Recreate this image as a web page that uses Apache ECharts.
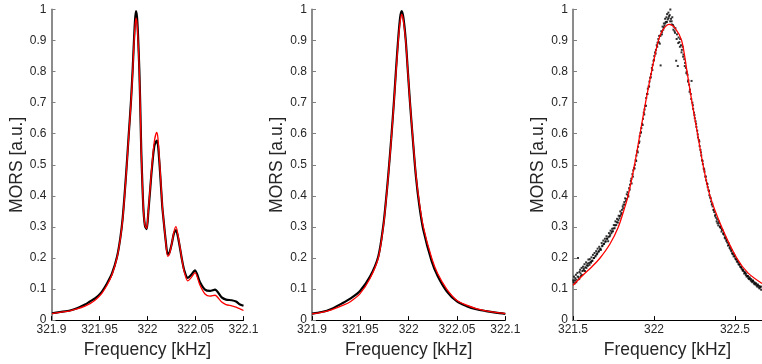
<!DOCTYPE html>
<html>
<head>
<meta charset="utf-8">
<script src="https://cdn.jsdelivr.net/npm/echarts@6/dist/echarts.min.js"></script>
<style>
html,body{margin:0;padding:0;background:#fff;}
#chart{width:762px;height:364px;}
</style>
</head>
<body>
<div id="chart"></div>
<script>
// ---------- Panel 1 (two-peak series) ----------
const freq1 = [321.9005,321.9089,321.9193,321.9266,321.9349,321.9401,321.9453,321.9495,321.9526,321.9578,321.9630,321.9682,321.9717,321.9742,321.9776,321.9804,321.9828,321.9846,321.9856,321.9870,321.9880,321.9891,321.9901,321.9915,321.9925,321.9935,321.9950,321.9960,321.9974,321.9992,322.0008,322.0029,322.0044,322.0071,322.0096,322.0109,322.0130,322.0154,322.0165,322.0190,322.0210,322.0229,322.0252,322.0276,322.0297,322.0321,322.0356,322.0383,322.0419,322.0453,322.0495,322.0547,322.0599,322.0651,322.0703,322.0773,322.0818,322.0877,322.0922,322.0964,322.1000];
const fit1  = [0.021,0.025,0.030,0.036,0.045,0.053,0.064,0.076,0.087,0.112,0.146,0.200,0.262,0.325,0.460,0.590,0.700,0.800,0.870,0.945,0.972,0.955,0.905,0.800,0.680,0.540,0.410,0.345,0.305,0.295,0.350,0.430,0.490,0.575,0.604,0.585,0.490,0.370,0.330,0.252,0.205,0.212,0.245,0.285,0.301,0.268,0.200,0.155,0.126,0.136,0.153,0.112,0.084,0.077,0.080,0.058,0.050,0.046,0.042,0.036,0.031];
const data1 = [0.022,0.026,0.031,0.038,0.050,0.060,0.070,0.081,0.092,0.118,0.150,0.203,0.265,0.330,0.465,0.595,0.705,0.810,0.880,0.965,0.995,0.975,0.920,0.805,0.685,0.545,0.410,0.345,0.303,0.293,0.345,0.425,0.482,0.560,0.578,0.565,0.480,0.365,0.330,0.255,0.212,0.218,0.245,0.280,0.290,0.262,0.200,0.160,0.136,0.145,0.160,0.122,0.098,0.094,0.098,0.073,0.066,0.064,0.060,0.050,0.046];

// ---------- Panel 2 (single peak, narrow) ----------
const freq2 = [321.9000,321.9100,321.9200,321.9324,321.9400,321.9497,321.9600,321.9686,321.9738,321.9765,321.9790,321.9820,321.9848,321.9870,321.9893,321.9912,321.9928,321.9945,321.9969,321.9992,322.0014,322.0045,322.0076,322.0110,322.0152,322.0238,322.0300,322.0394,322.0500,322.0600,322.0700,322.0800,322.0900,322.1000];
const fit2  = [0.020,0.025,0.033,0.048,0.060,0.085,0.134,0.200,0.300,0.380,0.466,0.580,0.700,0.800,0.900,0.960,0.985,0.965,0.900,0.800,0.700,0.580,0.466,0.380,0.300,0.200,0.150,0.100,0.063,0.048,0.037,0.030,0.025,0.021];
const data2 = [0.021,0.026,0.036,0.056,0.070,0.094,0.140,0.205,0.305,0.385,0.470,0.585,0.705,0.810,0.910,0.975,0.995,0.975,0.905,0.800,0.700,0.575,0.460,0.370,0.290,0.190,0.142,0.093,0.060,0.045,0.035,0.029,0.024,0.020];

// ---------- Panel 3 (single peak, wide, noisy) ----------
const freq3 = [321.500,321.564,321.617,321.667,321.728,321.780,321.815,321.840,321.880,321.914,321.948,321.985,322.027,322.056,322.094,322.130,322.171,322.204,322.235,322.269,322.303,322.346,322.418,322.511,322.580,322.667];
const fit3  = [0.112,0.146,0.172,0.200,0.245,0.300,0.355,0.400,0.500,0.600,0.700,0.800,0.900,0.935,0.952,0.940,0.900,0.800,0.700,0.600,0.500,0.400,0.300,0.200,0.152,0.118];
const data3 = [
[321.502,0.128],[321.506,0.140],[321.510,0.118],[321.514,0.135],[321.518,0.146],[321.522,0.130],[321.527,0.152],[321.531,0.200],[321.535,0.138],[321.540,0.155],
[321.544,0.162],[321.549,0.142],[321.553,0.168],[321.558,0.158],[321.562,0.172],[321.567,0.165],[321.571,0.180],[321.576,0.170],[321.581,0.186],[321.585,0.176],
[321.590,0.182],[321.595,0.195],[321.600,0.184],[321.604,0.196],[321.609,0.188],[321.614,0.202],[321.618,0.190],[321.623,0.210],[321.628,0.200],[321.633,0.216],
[321.638,0.205],[321.643,0.222],[321.648,0.212],[321.652,0.230],[321.657,0.220],[321.662,0.236],[321.667,0.228],[321.672,0.226],[321.677,0.248],[321.682,0.240],
[321.687,0.256],[321.692,0.246],[321.697,0.262],[321.702,0.254],[321.707,0.270],[321.712,0.262],[321.717,0.254],[321.722,0.280],[321.727,0.270],[321.732,0.288],
[321.737,0.280],[321.742,0.294],[321.747,0.286],[321.752,0.306],[321.757,0.296],[321.762,0.318],[321.767,0.306],[321.772,0.326],[321.777,0.314],[321.782,0.336],
[321.787,0.328],[321.792,0.350],[321.797,0.340],[321.802,0.355],[321.807,0.366],[321.812,0.372],[321.817,0.380],[321.822,0.392],[321.827,0.384],[321.832,0.405],
[321.837,0.412],[321.842,0.398],[321.847,0.425],[321.852,0.436],[321.857,0.448],[321.862,0.440],[321.867,0.470],[321.872,0.482],[321.877,0.490],[321.882,0.500],
[321.887,0.515],[321.892,0.530],[321.897,0.545],[321.902,0.558],[321.907,0.570],[321.912,0.592],[321.917,0.602],[321.922,0.618],[321.927,0.632],[321.932,0.648],
[321.937,0.668],[321.942,0.678],[321.947,0.690],[321.952,0.715],[321.957,0.728],[321.962,0.745],[321.967,0.752],[321.972,0.768],[321.977,0.780],[321.982,0.792],
[321.987,0.812],[321.992,0.822],[321.997,0.835],[322.002,0.850],[322.007,0.862],[322.012,0.870],[322.017,0.885],[322.022,0.893],[322.027,0.905],[322.032,0.915],
[322.036,0.890],[322.041,0.820],[322.045,0.930],[322.049,0.920],[322.053,0.945],[322.057,0.935],[322.061,0.955],[322.065,0.948],[322.069,0.970],[322.073,0.960],
[322.077,0.975],[322.081,0.985],[322.085,0.968],[322.089,0.990],[322.093,0.978],[322.097,0.982],[322.101,1.000],[322.105,0.970],[322.109,0.962],[322.113,0.975],
[322.117,0.950],[322.122,0.945],[322.127,0.930],[322.132,0.940],[322.137,0.835],[322.142,0.920],[322.147,0.818],[322.152,0.910],[322.157,0.895],[322.162,0.905],
[322.167,0.885],[322.172,0.870],[322.177,0.880],[322.182,0.855],[322.187,0.840],[322.192,0.828],[322.197,0.812],[322.202,0.800],[322.207,0.790],[322.212,0.772],
[322.217,0.758],[322.222,0.742],[322.227,0.728],[322.232,0.770],[322.237,0.700],[322.242,0.680],[322.247,0.668],[322.252,0.650],[322.257,0.640],[322.262,0.622],
[322.267,0.610],[322.272,0.588],[322.277,0.580],[322.282,0.560],[322.287,0.548],[322.292,0.530],[322.297,0.515],[322.302,0.502],[322.307,0.488],[322.312,0.478],
[322.317,0.462],[322.322,0.450],[322.327,0.440],[322.332,0.428],[322.337,0.418],[322.342,0.402],[322.347,0.395],[322.352,0.382],[322.357,0.372],[322.362,0.366],
[322.367,0.355],[322.372,0.348],[322.377,0.336],[322.382,0.330],[322.387,0.318],[322.392,0.312],[322.397,0.305],[322.402,0.312],[322.407,0.300],[322.412,0.296],
[322.417,0.285],[322.422,0.290],[322.427,0.278],[322.432,0.275],[322.437,0.265],[322.442,0.262],[322.447,0.255],[322.452,0.250],[322.457,0.240],[322.462,0.242],
[322.467,0.232],[322.472,0.228],[322.477,0.222],[322.482,0.215],[322.487,0.212],[322.492,0.205],[322.497,0.208],[322.502,0.198],[322.507,0.195],[322.512,0.188],
[322.517,0.190],[322.522,0.180],[322.527,0.178],[322.532,0.172],[322.537,0.170],[322.542,0.165],[322.547,0.160],[322.552,0.158],[322.557,0.150],[322.562,0.152],
[322.567,0.145],[322.572,0.140],[322.577,0.142],[322.582,0.135],[322.587,0.132],[322.592,0.134],[322.597,0.128],[322.602,0.125],[322.607,0.122],[322.612,0.126],
[322.617,0.118],[322.622,0.115],[322.627,0.118],[322.632,0.112],[322.637,0.108],[322.642,0.112],[322.647,0.105],[322.652,0.102],[322.657,0.106],[322.662,0.098],
[321.504,0.122],[321.512,0.128],[321.520,0.122],[321.529,0.140],[321.538,0.132],[321.547,0.150],[321.556,0.145],[321.565,0.160],[321.574,0.158],[321.583,0.168],
[321.592,0.175],[321.602,0.178],[321.611,0.185],[321.620,0.192],[321.630,0.200],[321.640,0.208],[321.650,0.215],[321.660,0.222],[321.670,0.230],[321.680,0.238],
[321.690,0.245],[321.700,0.252],[321.710,0.262],[321.720,0.268],[321.730,0.275],[321.740,0.285],[321.750,0.295],[321.760,0.305],[321.770,0.315],[321.780,0.322],
[321.790,0.335],[321.800,0.345],[321.810,0.360],[321.820,0.372],[321.830,0.390],[321.840,0.402],[321.850,0.420],[321.860,0.455],[321.870,0.462],[321.880,0.488],
[321.890,0.512],[321.900,0.540],[321.910,0.575],[321.920,0.605],[321.930,0.628],[321.940,0.662],[321.950,0.690],[321.960,0.728],[321.970,0.752],[321.980,0.782],
[321.990,0.805],[322.000,0.838],[322.010,0.858],[322.020,0.880],[322.030,0.895],[322.040,0.915],[322.050,0.928],[322.060,0.942],[322.070,0.955],[322.080,0.960],
[322.090,0.972],[322.100,0.962],[322.110,0.952],[322.120,0.935],[322.130,0.925],[322.140,0.905],[322.150,0.892],[322.160,0.880],[322.170,0.862],[322.180,0.848],
[322.190,0.818],[322.200,0.795],[322.210,0.768],[322.220,0.735],[322.230,0.712],[322.240,0.692],[322.250,0.660],[322.260,0.632],[322.270,0.598],[322.280,0.575],
[322.290,0.540],[322.300,0.512],[322.310,0.485],[322.320,0.462],[322.330,0.438],[322.340,0.415],[322.350,0.392],[322.360,0.375],[322.370,0.355],[322.380,0.340],
[322.390,0.325],[322.400,0.318],[322.410,0.302],[322.420,0.292],[322.430,0.280],[322.440,0.268],[322.450,0.258],[322.460,0.248],[322.470,0.236],[322.480,0.225],
[322.490,0.215],[322.500,0.205],[322.510,0.196],[322.520,0.186],[322.530,0.180],[322.540,0.170],[322.550,0.162],[322.560,0.155],[322.570,0.150],[322.580,0.142],
[322.590,0.138],[322.600,0.132],[322.610,0.128],[322.620,0.122],[322.630,0.118],[322.640,0.115],[322.650,0.110],[322.660,0.108]
];

// ---------- Axis settings (tick labels) ----------
const yTicks = {min: 0, max: 1, interval: 0.1};
const xAxis12 = {min: 321.9, max: 322.1, interval: 0.05};
const xAxis3 = {min: 321.5, max: 322.667, interval: 0.5};
const yName = 'MORS [a.u.]';
const xName = 'Frequency [kHz]';

const zip = (xs, ys) => xs.map((x, i) => [x, ys[i]]);
const FONT = 'Liberation Sans, Arial, Helvetica, sans-serif';
const TXT = '#262626';

function xAxisDef(idx, cfg, step) {
  return {
    type: 'value', gridIndex: idx, min: cfg.min, max: cfg.max, interval: cfg.interval,
    name: xName, nameLocation: 'middle', nameGap: 14,
    nameTextStyle: {fontFamily: FONT, fontSize: 17.5, color: TXT},
    axisLine: {show: true, onZero: false, lineStyle: {color: '#000', width: 1}},
    axisTick: {show: true, inside: true, length: 4, lineStyle: {color: '#000'}},
    splitLine: {show: false},
    axisLabel: {
      fontFamily: FONT, fontSize: 12, color: TXT, margin: 4,
      showMaxLabel: step === 0.05, showMinLabel: true,
      formatter: v => {
        const k = v / step;
        if (Math.abs(k - Math.round(k)) > 1e-6) return '';
        return String(parseFloat(v.toFixed(2)));
      }
    }
  };
}
function yAxisDef(idx) {
  return {
    type: 'value', gridIndex: idx, min: yTicks.min, max: yTicks.max, interval: yTicks.interval,
    name: yName, nameLocation: 'middle', nameGap: 25, nameRotate: 90,
    nameTextStyle: {fontFamily: FONT, fontSize: 17.5, color: TXT},
    axisLine: {show: true, lineStyle: {color: '#8c8c8c', width: 2}},
    axisTick: {show: true, inside: true, length: 4, lineStyle: {color: '#808080'}},
    splitLine: {show: false},
    axisLabel: {fontFamily: FONT, fontSize: 12, color: TXT, margin: 5,
      formatter: v => String(parseFloat(v.toFixed(1)))}
  };
}

const option = {
  animation: false,
  backgroundColor: '#fff',
  grid: [
    {left: 51.5, top: 9.5, width: 192, height: 313},
    {left: 312, top: 9.5, width: 193.3, height: 313},
    {left: 573, top: 9.5, width: 189, height: 313}
  ],
  xAxis: [xAxisDef(0, xAxis12, 0.05), xAxisDef(1, xAxis12, 0.05), xAxisDef(2, xAxis3, 0.5)],
  yAxis: [yAxisDef(0), yAxisDef(1), yAxisDef(2)],
  series: [
    {type: 'line', xAxisIndex: 0, yAxisIndex: 0, data: zip(freq1, data1), showSymbol: false, smooth: 0.25,
     lineStyle: {color: '#000', width: 2.2}, z: 2},
    {type: 'line', xAxisIndex: 0, yAxisIndex: 0, data: zip(freq1, fit1), showSymbol: false, smooth: 0.25,
     lineStyle: {color: '#ff0000', width: 1.3}, z: 3},
    {type: 'line', xAxisIndex: 1, yAxisIndex: 1, data: zip(freq2, data2), showSymbol: false, smooth: 0.3,
     lineStyle: {color: '#000', width: 2.2}, z: 2},
    {type: 'line', xAxisIndex: 1, yAxisIndex: 1, data: zip(freq2, fit2), showSymbol: false, smooth: 0.3,
     lineStyle: {color: '#ff0000', width: 1.3}, z: 3},
    {type: 'scatter', xAxisIndex: 2, yAxisIndex: 2, data: data3, symbol: 'rect', symbolSize: 2,
     itemStyle: {color: '#000'}, z: 2},
    {type: 'line', xAxisIndex: 2, yAxisIndex: 2, data: zip(freq3, fit3), showSymbol: false, smooth: 0.3,
     lineStyle: {color: '#ff0000', width: 1.3}, z: 3}
  ]
};
const chart = echarts.init(document.getElementById('chart'), null, {renderer: 'canvas'});
chart.setOption(option);
</script>
</body>
</html>
